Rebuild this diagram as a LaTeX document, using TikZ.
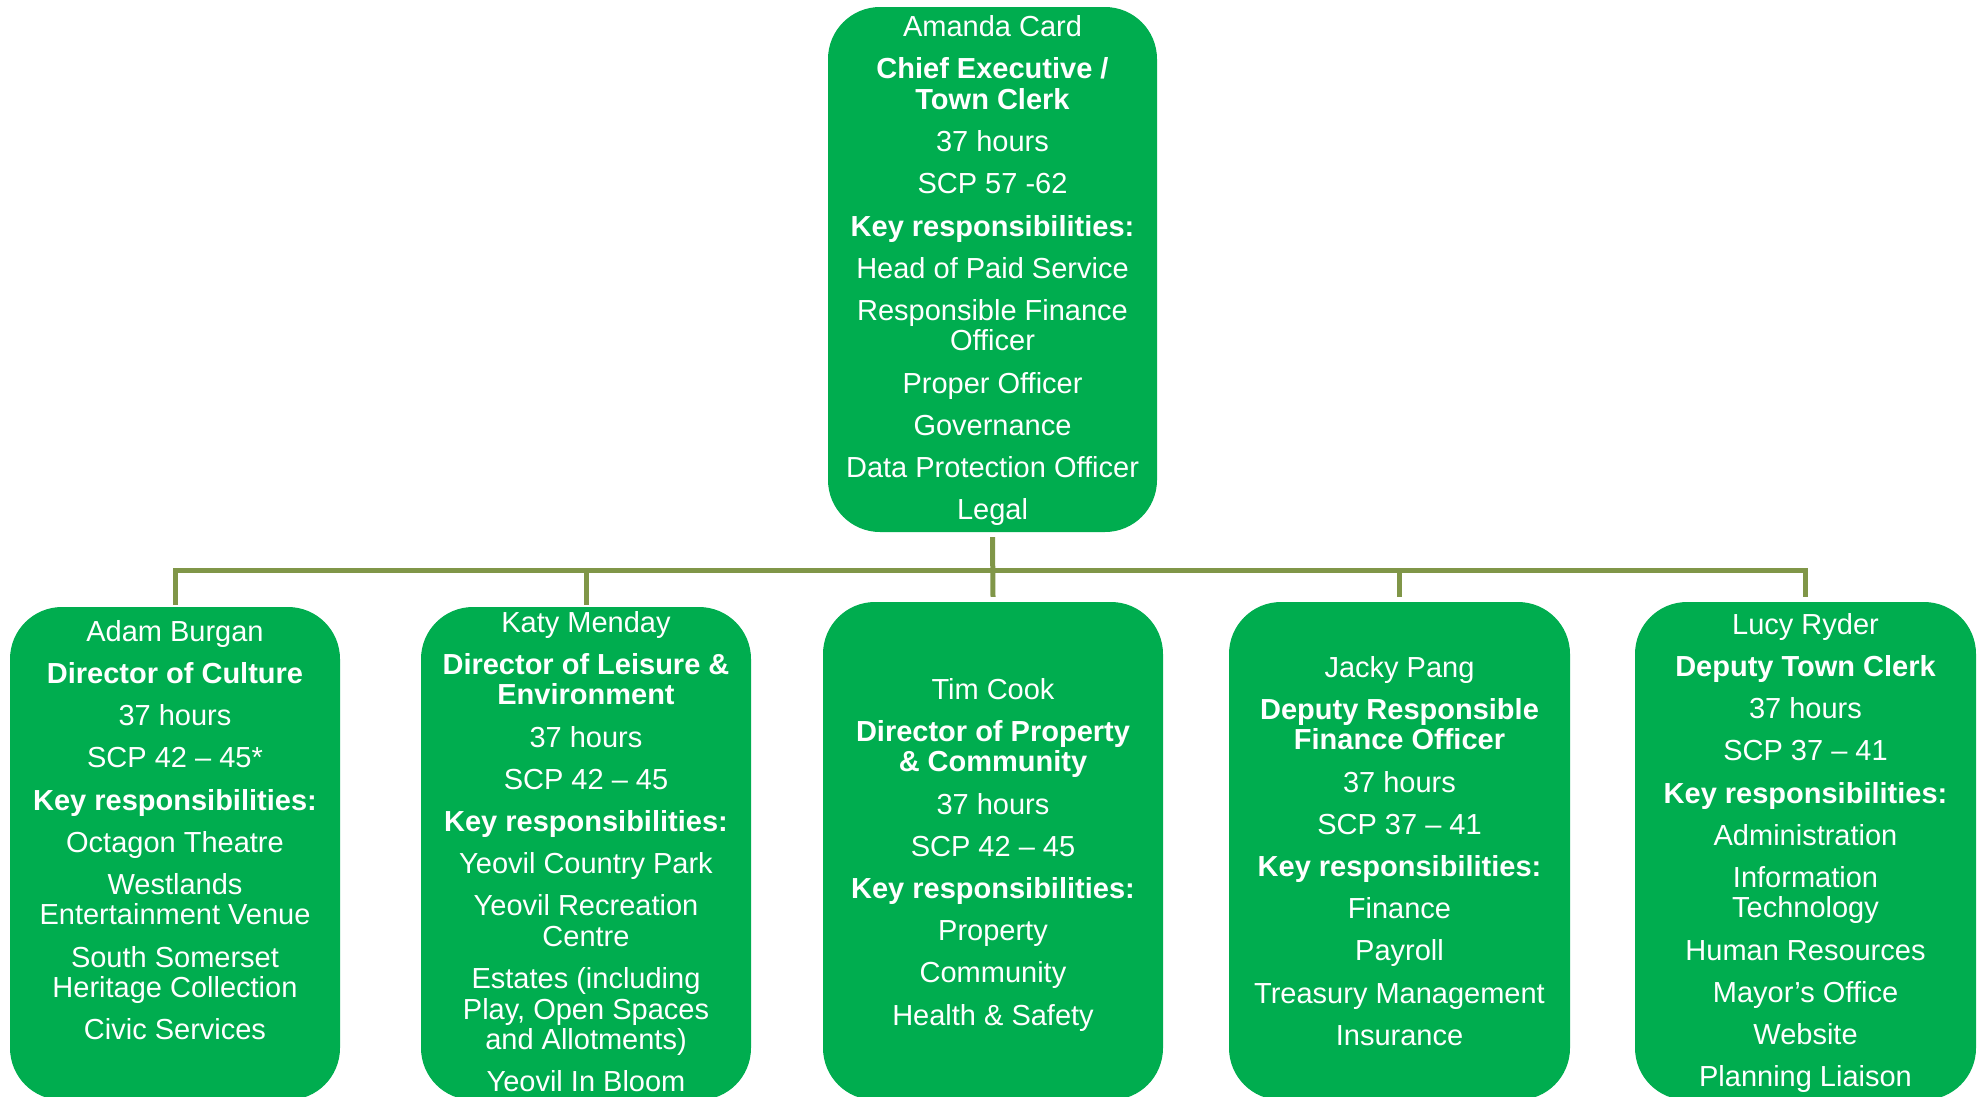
\documentclass[tikz,border=0pt]{standalone}
\usepackage{fontspec}
\setmainfont{Liberation Sans}
\definecolor{boxgreen}{RGB}{0,173,79}
\definecolor{linegreen}{RGB}{128,150,72}
\newcommand\gp{\\[11.7pt]}
\tikzset{
  card/.style={draw=none, fill=boxgreen, rounded corners=52pt, inner sep=0pt},
  cardtext/.style={text=white, align=center, anchor=north, inner sep=0pt, font=\fontsize{29}{30.5}\selectfont},
  conn/.style={draw=linegreen, line width=5pt, line join=miter}
}
\begin{document}
\begin{tikzpicture}[x=1pt,y=-1pt]
\useasboundingbox (0,0) rectangle (1982,1096);
% boxes
\node[card, minimum width=329pt, minimum height=525pt] (top) at (992.5,269.5) {};
\node[card, minimum width=330pt, minimum height=493pt] (b1) at (175,853.5) {};
\node[card, minimum width=330pt, minimum height=493pt] (b2) at (586,853.5) {};
\node[card, minimum width=340pt, minimum height=498pt] (b3) at (993,851) {};
\node[card, minimum width=341pt, minimum height=498pt] (b4) at (1399.5,851) {};
\node[card, minimum width=341pt, minimum height=498pt] (b5) at (1805.5,851) {};
% connectors
\coordinate (bus) at (992.5,570);
\draw[conn] ([yshift=-5pt]top.south) -- ([yshift=5pt]b3.north);
\draw[conn] ([yshift=2pt]b1.north) -- (b1.north |- bus) -- (b5.north |- bus) -- ([yshift=5pt]b5.north);
\draw[conn] (b2.north |- bus) -- ([yshift=2pt]b2.north);
\draw[conn] (b4.north |- bus) -- ([yshift=5pt]b4.north);
% texts
\node[cardtext] (toptext) at (992.5,15.5) {Amanda Card\gp\textbf{Chief Executive /}\\\textbf{Town Clerk}\gp 37 hours\gp SCP 57 -62\gp\textbf{Key responsibilities:}\gp Head of Paid Service\gp Responsible Finance\\Officer\gp Proper Officer\gp Governance\gp Data Protection Officer\gp Legal};
\node[cardtext] (t1) at (175,620) {Adam Burgan\gp\textbf{Director of Culture}\gp 37 hours\gp SCP 42 – 45*\gp\textbf{Key responsibilities:}\gp Octagon Theatre\gp Westlands\\Entertainment Venue\gp South Somerset\\Heritage Collection\gp Civic Services};
\node[cardtext] (t2) at (586,611) {Katy Menday\gp\textbf{Director of Leisure \&}\\\textbf{Environment}\gp 37 hours\gp SCP 42 – 45\gp\textbf{Key responsibilities:}\gp Yeovil Country Park\gp Yeovil Recreation\\Centre\gp Estates (including\\Play, Open Spaces\\and Allotments)\gp Yeovil In Bloom};
\node[cardtext] (t3) at (993,678) {Tim Cook\gp\textbf{Director of Property}\\\textbf{\& Community}\gp 37 hours\gp SCP 42 – 45\gp\textbf{Key responsibilities:}\gp Property\gp Community\gp Health \& Safety};
\node[cardtext] (t4) at (1399.5,656) {Jacky Pang\gp\textbf{Deputy Responsible}\\\textbf{Finance Officer}\gp 37 hours\gp SCP 37 – 41\gp\textbf{Key responsibilities:}\gp Finance\gp Payroll\gp Treasury Management\gp Insurance};
\node[cardtext] (t5) at (1805.5,613) {Lucy Ryder\gp\textbf{Deputy Town Clerk}\gp 37 hours\gp SCP 37 – 41\gp\textbf{Key responsibilities:}\gp Administration\gp Information\\Technology\gp Human Resources\gp Mayor’s Office\gp Website\gp Planning Liaison};
\end{tikzpicture}
\end{document}
